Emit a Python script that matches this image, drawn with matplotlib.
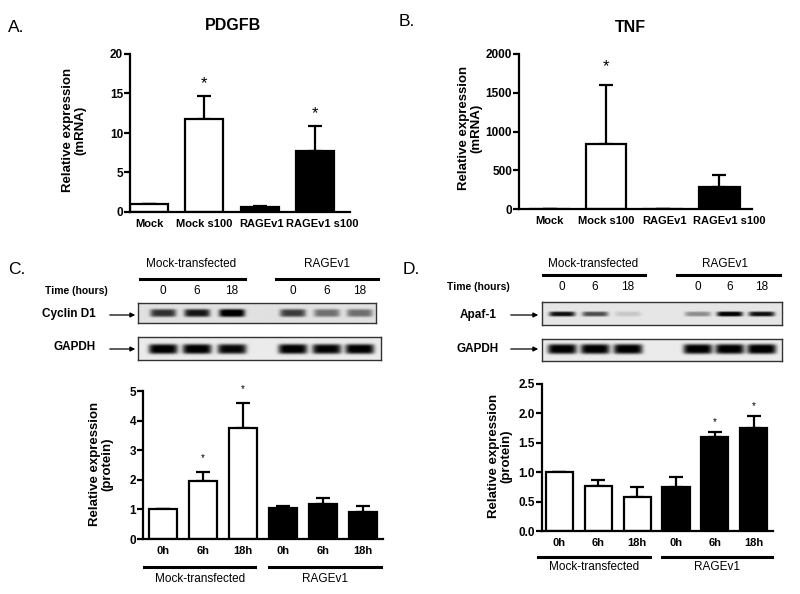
import numpy as np
import matplotlib
matplotlib.use("Agg")
import matplotlib.pyplot as plt
from matplotlib import transforms

plt.rcParams['font.family'] = ['Liberation Sans', 'DejaVu Sans']

# ---- data ----
mrna_groups = ['Mock', 'Mock s100', 'RAGEv1', 'RAGEv1 s100']
mrna_fill = ['white', 'white', 'black', 'black']

pdgfb_mean = [1.0, 11.8, 0.6, 7.7]
pdgfb_err = [0, 2.9, 0.15, 3.2]
pdgfb_star = [False, True, False, True]

tnf_mean = [1, 840, 5, 290]
tnf_err = [0, 760, 0, 150]
tnf_star = [False, True, False, False]

time_labels = ['0h', '6h', '18h', '0h', '6h', '18h']
lane_labels = ['0', '6', '18']
prot_fill = ['white'] * 3 + ['black'] * 3

cyclin_mean = [1.0, 1.95, 3.75, 1.05, 1.18, 0.9]
cyclin_err = [0, 0.32, 0.85, 0.05, 0.2, 0.22]
cyclin_star = [False, True, True, False, False, False]

apaf_mean = [1.0, 0.77, 0.57, 0.75, 1.6, 1.75]
apaf_err = [0, 0.09, 0.18, 0.17, 0.08, 0.21]
apaf_star = [False, False, False, False, True, True]

# band darkness on the blots (0 = none, 1 = black)
cyclin_band = [0.7, 0.8, 0.97, 0.65, 0.45, 0.45]
gapdh_c_band = [0.95, 0.95, 0.9, 0.95, 0.92, 0.95]
apaf_band = [0.85, 0.6, 0.12, 0.35, 0.95, 0.85]
gapdh_d_band = [0.95, 0.95, 0.95, 0.95, 0.95, 0.97]

W, H = 800, 594
fig = plt.figure(figsize=(W / 100, H / 100), dpi=100)


def fx(x):
    return x / W


def fy(y):
    return 1 - y / H


def add_ax(l, t, r, b):
    return fig.add_axes([l / W, 1 - b / H, (r - l) / W, (b - t) / H])


def txt(x, y, s, **kw):
    kw.setdefault('ha', 'center')
    kw.setdefault('va', 'center')
    fig.text(fx(x), fy(y), s, **kw)


def bar_panel(ax, labels, mean, err, fills, stars, ymax, yticks, xlim, width,
              star_off, star_size, tick_fs=8):
    x = np.arange(len(mean))
    ax.bar(x, mean, width=width, color=fills, edgecolor='black', linewidth=1.6, zorder=2)
    ax.errorbar(x, mean, yerr=[np.zeros(len(err)), err], fmt='none', ecolor='black',
                elinewidth=1.6, capsize=5, capthick=1.6, zorder=1)
    for i, s in enumerate(stars):
        if s:
            ax.text(i, mean[i] + err[i] + star_off, '*', ha='center', va='center',
                    fontsize=star_size)
    ax.set_ylim(0, ymax)
    ax.set_xlim(*xlim)
    ax.set_yticks(yticks)
    ax.set_xticks(x)
    ax.set_xticklabels(labels, fontweight='bold', fontsize=tick_fs)
    for lab in ax.get_yticklabels():
        lab.set_fontweight('bold')
        lab.set_fontsize(8.5)
    for sp in ['top', 'right']:
        ax.spines[sp].set_visible(False)
    for sp in ['left', 'bottom']:
        ax.spines[sp].set_linewidth(1.6)
    ax.tick_params(axis='y', length=4, width=1.6, pad=1)
    ax.tick_params(axis='x', length=0, pad=5)
    ax.patch.set_alpha(0)


def shift_label(ax, idx, dx_px):
    lab = ax.get_xticklabels()[idx]
    lab.set_transform(lab.get_transform() +
                      transforms.ScaledTranslation(dx_px / 100, 0, fig.dpi_scale_trans))


def draw_blot(box, lanes_px, band, band_w, band_h, yc, bg):
    l, t, r, b = box
    ax = add_ax(l, t, r, b)
    xs = np.linspace(l, r, 400)
    ys = np.linspace(t, b, 80)
    X, Y = np.meshgrid(xs, ys)
    img = np.full(X.shape, bg)
    for xc, v in zip(lanes_px, band):
        img = img + v * np.exp(-((X - xc) / (band_w / 2)) ** 6) * np.exp(-((Y - yc) / (band_h / 2)) ** 4)
    ax.imshow(np.clip(img, 0, 1), cmap='gray_r', vmin=0, vmax=1, extent=(l, r, b, t),
              aspect='auto', interpolation='bilinear')
    ax.set_xlim(l, r)
    ax.set_ylim(b, t)
    ax.set_xticks([])
    ax.set_yticks([])
    for sp in ax.spines.values():
        sp.set_color('#333333')
        sp.set_linewidth(1.0)


def hline(x0, x1, y, lw=2.2):
    fig.add_artist(plt.Line2D([fx(x0), fx(x1)], [fy(y), fy(y)], color='black', lw=lw))


def arrow(x0, x1, y):
    fig.add_artist(matplotlib.patches.FancyArrowPatch(
        (fx(x0), fy(y)), (fx(x1), fy(y)), transform=fig.transFigure,
        arrowstyle='-|>', mutation_scale=7, lw=0.9, color='black'))


def group_lines(ax, spans, y_line, y_text, names):
    tr = transforms.blended_transform_factory(ax.transData, ax.transAxes)
    for (a, b), name in zip(spans, names):
        ax.plot([a, b], [y_line, y_line], color='black', lw=2.2, transform=tr, clip_on=False)
        ax.text((a + b) / 2, y_text, name, transform=tr, ha='center', va='center', fontsize=8.5)


# ---- A. PDGFB ----
txt(8, 28, 'A.', ha='left', fontsize=12.5)
txt(233, 25, 'PDGFB', fontsize=11.5, fontweight='bold')
axA = add_ax(130, 54, 350, 212)
bar_panel(axA, mrna_groups, pdgfb_mean, pdgfb_err, mrna_fill, pdgfb_star, 20,
          [0, 5, 10, 15, 20], (-0.35, 3.64), 0.69, 1.6, 12)
shift_label(axA, 2, 2)
shift_label(axA, 3, 8)
txt(74, 130, 'Relative expression\n(mRNA)', rotation=90, fontsize=9.5, fontweight='bold',
    multialignment='center', linespacing=1.1)

# ---- B. TNF ----
txt(399, 22, 'B.', ha='left', fontsize=12.5)
txt(630, 28, 'TNF', fontsize=11.5, fontweight='bold')
axB = add_ax(519, 54, 752, 209)
bar_panel(axB, mrna_groups, tnf_mean, tnf_err, mrna_fill, tnf_star, 2000,
          [0, 500, 1000, 1500, 2000], (-0.54, 3.58), 0.72, 240, 12)
shift_label(axB, 2, 2)
shift_label(axB, 3, 10)
txt(470, 128, 'Relative expression\n(mRNA)', rotation=90, fontsize=9.5, fontweight='bold',
    multialignment='center', linespacing=1.1)

# ---- C. Cyclin D1 ----
txt(8, 269, 'C.', ha='left', fontsize=12.5)
txt(191, 264, 'Mock-transfected', fontsize=8.5)
txt(327, 264, 'RAGEv1', fontsize=8.5)
hline(140, 245, 279)
hline(276, 378, 279)
txt(76, 291, 'Time (hours)', fontsize=7.5, fontweight='bold')
c_lanes = [163, 197, 232, 293, 327, 360]
for xl, lab in zip(c_lanes, lane_labels * 2):
    txt(xl, 291, lab, fontsize=8.5)
txt(69, 314, 'Cyclin D1', fontsize=8.5, fontweight='bold')
arrow(107, 138, 315)
txt(75, 347, 'GAPDH', fontsize=8.5, fontweight='bold')
arrow(107, 138, 349)
draw_blot((138, 303, 376, 323), c_lanes, cyclin_band, 26, 8, 313, 0.12)
draw_blot((138, 337, 381, 360), c_lanes, gapdh_c_band, 29, 10, 349, 0.08)

axC = add_ax(143, 391, 383, 539)
bar_panel(axC, time_labels, cyclin_mean, cyclin_err, prot_fill, cyclin_star, 5,
          [0, 1, 2, 3, 4, 5], (-0.5, 5.49), 0.7, 0.45, 7)
group_lines(axC, [(-0.47, 2.3), (2.65, 5.43)], -0.19, -0.27,
            ['Mock-transfected', 'RAGEv1'])
txt(101, 464, 'Relative expression\n(protein)', rotation=90, fontsize=9.5, fontweight='bold',
    multialignment='center', linespacing=1.1)

# ---- D. Apaf-1 ----
txt(403, 270, 'D.', ha='left', fontsize=12.5)
txt(593, 264, 'Mock-transfected', fontsize=8.5)
txt(725, 264, 'RAGEv1', fontsize=8.5)
hline(543, 645, 275)
hline(677, 780, 275)
txt(478, 287, 'Time (hours)', fontsize=7.5, fontweight='bold')
d_lanes = [562, 595, 628, 698, 730, 762]
for xl, lab in zip(d_lanes, lane_labels * 2):
    txt(xl, 287, lab, fontsize=8.5)
txt(478, 315, 'Apaf-1', fontsize=8.5, fontweight='bold')
arrow(508, 541, 315)
txt(478, 349, 'GAPDH', fontsize=8.5, fontweight='bold')
arrow(508, 541, 349)
draw_blot((542, 302, 782, 325), d_lanes, apaf_band, 26, 5, 314, 0.1)
draw_blot((542, 339, 782, 361), d_lanes, gapdh_d_band, 29, 10, 349, 0.08)

axD = add_ax(542, 384, 773, 531)
bar_panel(axD, time_labels, apaf_mean, apaf_err, prot_fill, apaf_star, 2.5,
          [0.0, 0.5, 1.0, 1.5, 2.0, 2.5], (-0.45, 5.5), 0.7, 0.17, 7)
axD.set_yticklabels(['0.0', '0.5', '1.0', '1.5', '2.0', '2.5'], fontweight='bold', fontsize=8.5)
group_lines(axD, [(-0.55, 2.34), (2.64, 5.48)], -0.177, -0.245,
            ['Mock-transfected', 'RAGEv1'])
txt(500, 456, 'Relative expression\n(protein)', rotation=90, fontsize=9.5, fontweight='bold',
    multialignment='center', linespacing=1.1)

fig.savefig('out.png', dpi=100)
